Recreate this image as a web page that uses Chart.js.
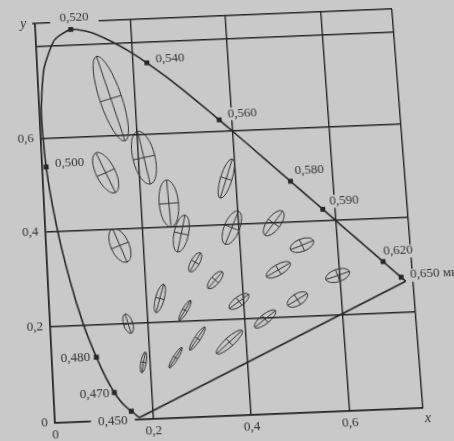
<!DOCTYPE html>
<html>
<head>
<meta charset="utf-8">
<script src="https://cdn.jsdelivr.net/npm/chart.js@4.4.1/dist/chart.umd.min.js"></script>
<style>
  html, body { margin: 0; padding: 0; background: #c9c9c9; overflow: hidden; }
  #wrap { width: 454px; height: 441px; position: relative; }
  #chart { position: absolute; left: 0; top: 0; }
</style>
</head>
<body>
<div id="wrap"><canvas id="chart" width="454" height="441"></canvas></div>
<script>
// spectral locus (CIE 1931), wavelength in µm
const wavelengths = [0.380, 0.400, 0.420, 0.430, 0.440, 0.450, 0.460, 0.465, 0.470, 0.475,
  0.480, 0.485, 0.490, 0.495, 0.500, 0.505, 0.510, 0.515, 0.520, 0.525,
  0.530, 0.535, 0.540, 0.545, 0.550, 0.555, 0.560, 0.565, 0.570, 0.575,
  0.580, 0.585, 0.590, 0.595, 0.600, 0.605, 0.610, 0.620, 0.630, 0.640,
  0.650, 0.660, 0.680, 0.700];
const locusX = [0.1741, 0.1733, 0.1714, 0.1689, 0.1644, 0.1566, 0.1440, 0.1355, 0.1241, 0.1096,
  0.0913, 0.0687, 0.0454, 0.0235, 0.0082, 0.0039, 0.0139, 0.0389, 0.0743, 0.1142,
  0.1547, 0.1929, 0.2296, 0.2658, 0.3016, 0.3373, 0.3731, 0.4087, 0.4441, 0.4788,
  0.5125, 0.5448, 0.5752, 0.6029, 0.6270, 0.6482, 0.6658, 0.6915, 0.7079, 0.7190,
  0.7260, 0.7300, 0.7334, 0.7347];
const locusY = [0.0050, 0.0048, 0.0051, 0.0069, 0.0109, 0.0177, 0.0297, 0.0399, 0.0578, 0.0868,
  0.1327, 0.2007, 0.2950, 0.4127, 0.5384, 0.6548, 0.7502, 0.8120, 0.8338, 0.8262,
  0.8059, 0.7816, 0.7543, 0.7243, 0.6923, 0.6589, 0.6245, 0.5896, 0.5547, 0.5202,
  0.4866, 0.4544, 0.4242, 0.3965, 0.3725, 0.3514, 0.3340, 0.3083, 0.2920, 0.2809,
  0.2740, 0.2700, 0.2666, 0.2653];

// wavelengths marked on the locus
const markedWavelengths = [0.450, 0.470, 0.480, 0.500, 0.520, 0.540, 0.560, 0.580, 0.590, 0.620, 0.650];
const markLabels = ["0,450", "0,470", "0,480", "0,500", "0,520", "0,540", "0,560", "0,580", "0,590", "0,620", "0,650 мк"];

// MacAdam ellipses: centre, semi-axes (x 0.001) and tilt in degrees, drawn 10x enlarged
const ellipseX = [0.187, 0.253, 0.150, 0.131, 0.212, 0.258, 0.152, 0.280, 0.380, 0.160, 0.228, 0.305,
  0.385, 0.472, 0.527, 0.475, 0.510, 0.596, 0.344, 0.390, 0.441, 0.278, 0.300, 0.365];
const ellipseY = [0.118, 0.125, 0.680, 0.521, 0.550, 0.450, 0.365, 0.385, 0.498, 0.200, 0.250, 0.323,
  0.393, 0.399, 0.350, 0.300, 0.236, 0.283, 0.284, 0.237, 0.198, 0.223, 0.163, 0.153];
const ellipseA = [2.2, 2.5, 9.6, 4.7, 5.8, 5.0, 3.8, 4.0, 4.4, 2.1, 3.1, 2.3,
  3.8, 3.2, 2.6, 2.9, 2.4, 2.6, 2.3, 2.5, 2.8, 2.4, 2.9, 3.6];
const ellipseB = [0.55, 0.50, 2.3, 2.0, 2.3, 2.0, 1.9, 1.5, 1.2, 0.95, 0.9, 0.9,
  1.6, 1.4, 1.3, 1.1, 1.2, 1.3, 0.9, 1.0, 0.95, 0.55, 0.6, 0.95];
const ellipseAngle = [77, 55.5, 105, 112.5, 100, 92, 110, 75.5, 70, 104, 72, 58,
  65.5, 51, 20, 28.5, 29.5, 17, 47, 34.5, 37, 57.5, 54, 40];

const xTicks = [0, 0.2, 0.4, 0.6];
const yTicks = [0, 0.2, 0.4, 0.6];
const xMax = 0.75;
const yMax = 0.85;

const INK = '#262626';
const PAPER = '#c9c9c9';
const SERIF = '"Liberation Serif", "DejaVu Serif", serif';

// where each wavelength label sits relative to its square: align, dx, dy, blank margin
const labelPlacement = [
  ['right', -4, 9, 7], ['right', -5, 1, 2], ['right', -6, 0, 2], ['left', 9, -3, 3],
  ['center', 4, -12, 10], ['left', 9, -3, 3], ['left', 9, -6, 3], ['left', 5, -10, 3],
  ['left', 7, -8, 3], ['left', 1, -10, 2], ['left', 9, -2, 2]
];

// the printed sheet is seen slightly tilted: frame corners TL, TR, BR, BL on the page
const frameCorners = [[35, 23.5], [392, 9], [423, 408], [55, 423]];

const locusPoints = wavelengths.map((w, i) => ({ x: locusX[i], y: locusY[i] }));
const purpleLine = [locusPoints[locusPoints.length - 1], locusPoints[0]];
const markPoints = markedWavelengths.map(w => {
  const i = wavelengths.findIndex(v => Math.abs(v - w) < 1e-6);
  return locusPoints[i];
});

function fmt(v) {
  return v === 0 ? '0' : v.toFixed(1).replace('.', ',');
}
function isTick(list, v) {
  return list.some(t => Math.abs(t - v) < 1e-6);
}

// plain gaussian elimination for the 8x8 homography system
function solve(A, b) {
  const n = b.length;
  const M = A.map((row, i) => row.concat([b[i]]));
  for (let c = 0; c < n; c++) {
    let p = c;
    for (let r = c + 1; r < n; r++) if (Math.abs(M[r][c]) > Math.abs(M[p][c])) p = r;
    [M[c], M[p]] = [M[p], M[c]];
    for (let r = 0; r < n; r++) {
      if (r === c) continue;
      const f = M[r][c] / M[c][c];
      for (let k = c; k <= n; k++) M[r][k] -= f * M[c][k];
    }
  }
  return M.map((row, i) => row[n] / row[i]);
}

function tiltCanvas(canvas, area) {
  const src = [[area.left, area.top], [area.right, area.top], [area.right, area.bottom], [area.left, area.bottom]];
  const A = [], b = [];
  src.forEach(([x, y], i) => {
    const [u, v] = frameCorners[i];
    A.push([x, y, 1, 0, 0, 0, -x * u, -y * u]); b.push(u);
    A.push([0, 0, 0, x, y, 1, -x * v, -y * v]); b.push(v);
  });
  const h = solve(A, b);
  canvas.style.transformOrigin = '0 0';
  canvas.style.transform = `matrix3d(${h[0]},${h[3]},0,${h[6]},${h[1]},${h[4]},0,${h[7]},0,0,1,0,${h[2]},${h[5]},0,1)`;
}

const ellipsePlugin = {
  id: 'ellipses',
  beforeDatasetsDraw(chart) {
    const ctx = chart.ctx;
    const xs = chart.scales.x, ys = chart.scales.y;
    const kx = xs.getPixelForValue(1) - xs.getPixelForValue(0);
    const ky = ys.getPixelForValue(0) - ys.getPixelForValue(1);
    ctx.save();
    ctx.strokeStyle = '#333';
    ctx.lineWidth = 1;
    ellipseX.forEach((ex, i) => {
      const a = ellipseA[i] * 0.01, b = ellipseB[i] * 0.01;
      ctx.save();
      ctx.translate(xs.getPixelForValue(ex), ys.getPixelForValue(ellipseY[i]));
      ctx.scale(kx, -ky);
      ctx.rotate(ellipseAngle[i] * Math.PI / 180);
      ctx.beginPath();
      ctx.ellipse(0, 0, a, b, 0, 0, Math.PI * 2);
      ctx.moveTo(-a, 0); ctx.lineTo(a, 0);
      ctx.moveTo(0, -b); ctx.lineTo(0, b);
      ctx.restore();
      ctx.stroke();
    });
    ctx.restore();
  }
};

const labelPlugin = {
  id: 'marks',
  afterDatasetsDraw(chart) {
    const ctx = chart.ctx;
    const xs = chart.scales.x, ys = chart.scales.y;
    const area = chart.chartArea;
    ctx.save();
    ctx.font = '13px ' + SERIF;
    ctx.textBaseline = 'middle';
    markPoints.forEach((p, i) => {
      const [align, dx, dy, pad] = labelPlacement[i];
      const x = xs.getPixelForValue(p.x) + dx;
      const y = ys.getPixelForValue(p.y) + dy;
      const w = ctx.measureText(markLabels[i]).width;
      const left = align === 'right' ? x - w : align === 'center' ? x - w / 2 : x;
      ctx.fillStyle = PAPER;
      ctx.fillRect(left - pad, y - 6, w + 2 * pad, 13);
      ctx.fillStyle = '#333';
      ctx.textAlign = align;
      ctx.fillText(markLabels[i], x, y);
    });
    // axis letters and the short lead of the top edge
    ctx.font = 'italic 14px ' + SERIF;
    ctx.textAlign = 'center';
    ctx.fillText('y', area.left - 12, area.top);
    ctx.fillText('x', area.right + 4, area.bottom + 10);
    ctx.strokeStyle = INK;
    ctx.lineWidth = 1.5;
    ctx.beginPath();
    ctx.moveTo(area.left - 3, area.top);
    ctx.lineTo(area.left, area.top);
    ctx.stroke();
    ctx.restore();
  }
};

const chart = new Chart(document.getElementById('chart'), {
  type: 'scatter',
  data: {
    datasets: [
      {
        data: markPoints,
        showLine: false,
        pointStyle: 'rect',
        pointRadius: 3.5,
        pointBackgroundColor: INK,
        pointBorderColor: INK,
        pointBorderWidth: 0
      },
      {
        data: locusPoints,
        showLine: true,
        borderColor: INK,
        borderWidth: 1.6,
        pointRadius: 0,
        tension: 0.2
      },
      {
        data: purpleLine,
        showLine: true,
        borderColor: INK,
        borderWidth: 1.6,
        pointRadius: 0
      }
    ]
  },
  options: {
    responsive: false,
    animation: false,
    events: [],
    layout: { padding: { left: 4, right: 46, top: 20, bottom: 0 } },
    plugins: {
      legend: { display: false },
      tooltip: { enabled: false }
    },
    scales: {
      x: {
        type: 'linear',
        min: 0,
        max: xMax,
        afterFit(scale) { scale.height = 21; },
        afterBuildTicks(scale) {
          scale.ticks = xTicks.concat([xMax]).map(v => ({ value: v }));
        },
        grid: { color: INK, lineWidth: 1.4, drawTicks: false },
        border: { color: INK, width: 1.6 },
        ticks: {
          padding: 4,
          color: '#333',
          font: { family: SERIF, size: 13 },
          callback: v => isTick(xTicks, v) ? fmt(v) : ''
        }
      },
      y: {
        type: 'linear',
        min: 0,
        max: yMax,
        afterFit(scale) { scale.width = 42; },
        afterBuildTicks(scale) {
          scale.ticks = yTicks.concat([0.8, yMax]).map(v => ({ value: v }));
        },
        grid: { color: INK, lineWidth: 1.4, drawTicks: false },
        border: { color: INK, width: 1.6 },
        ticks: {
          padding: 7,
          color: '#333',
          font: { family: SERIF, size: 13 },
          callback: v => isTick(yTicks, v) ? fmt(v) : ''
        }
      }
    }
  },
  plugins: [ellipsePlugin, labelPlugin]
});

tiltCanvas(chart.canvas, chart.chartArea);
</script>
</body>
</html>
